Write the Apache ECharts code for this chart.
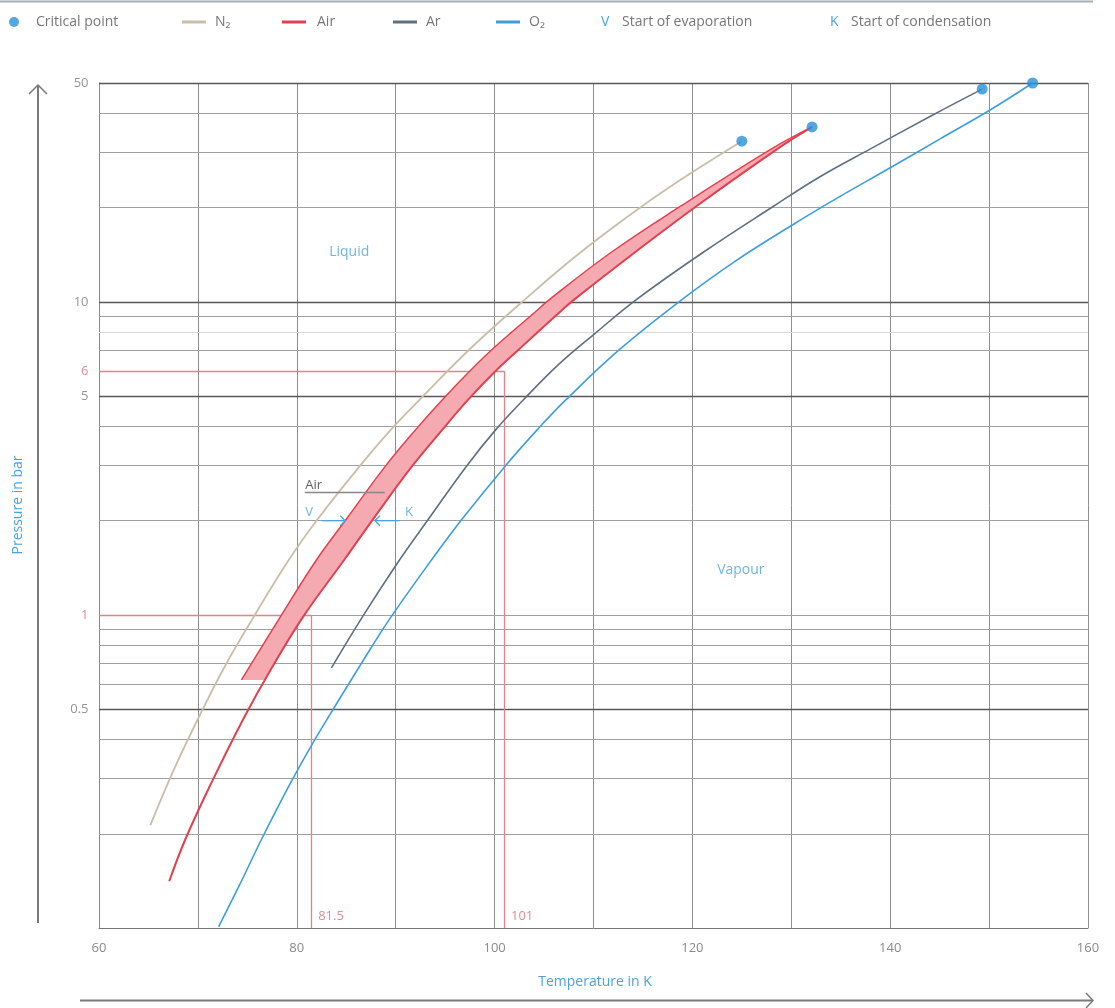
<!DOCTYPE html>
<html>
<head>
<meta charset="utf-8">
<script src="https://cdn.jsdelivr.net/npm/echarts@6/dist/echarts.min.js"></script>
<style>
html,body{margin:0;padding:0;background:#fff}
#chart{width:1115px;height:1008px}
</style>
</head>
<body>
<div id="chart"></div>
<script>
// vapour pressure curves, [temperature K, pressure bar]
const n2 = [[65.2,0.213],[67.5,0.317],[70.1,0.472],[72.8,0.692],[75.7,0.993],[79.2,1.50],[82.1,2.02],[86.3,2.97],[89.5,3.90],[92.4,4.86],[97.5,7.07],[103.1,10.2],[108.7,14.4],[114.9,20.2],[119.7,25.6],[125.0,32.6]]
const airV = [[74.4,0.620],[78.4,0.993],[82.0,1.50],[85.0,2.02],[88.9,2.97],[92.0,3.90],[94.7,4.86],[97.4,5.97],[99.8,7.07],[104.1,9.28],[105.6,10.2],[111.8,14.4],[118.8,20.2],[128.0,30.8],[132.1,36.2]]
const airK = [[67.1,0.141],[68.7,0.191],[71.3,0.288],[74.7,0.472],[77.4,0.672],[80.7,0.993],[84.8,1.50],[87.7,2.02],[91.6,2.97],[94.7,3.90],[97.3,4.86],[100.0,5.97],[102.5,7.07],[106.6,9.28],[108.1,10.2],[114.2,14.4],[120.4,20.2],[128.6,30.8],[132.1,36.2]]
const airBandBase = [[74.4,0.62],[76.8,0.62]]
const ar = [[83.5,0.677],[86.7,0.993],[90.4,1.50],[93.3,2.02],[97.1,2.97],[100.1,3.90],[102.9,4.86],[106.4,6.28],[110.2,7.95],[114.4,10.2],[121.1,14.4],[128.2,20.2],[132.9,25.1],[138.0,30.8],[144.3,39.5],[149.3,47.8]]
const o2 = [[72.1,0.101],[74.3,0.139],[76.4,0.191],[79.3,0.288],[81.4,0.379],[83.2,0.472],[87.5,0.784],[89.6,0.993],[93.5,1.48],[96.7,2.02],[101.0,2.97],[104.3,3.90],[107.2,4.86],[112.7,7.07],[119.0,10.2],[124.2,13.4],[130.1,17.6],[134.8,21.6],[140.0,26.8],[145.0,33.1],[150.1,41.0],[154.4,50]]
const criticalPoints = [[125.0,32.6],[132.1,36.2],[149.3,47.8],[154.4,50]]

// grid and tick values
const gridValues = [0.2,0.3,0.4,0.5,0.6,0.7,0.8,0.9,1,2,3,4,5,7,8,9,10,20,30,40,50]
const majorGrid = [0.5,5,10,50]
const faintGrid = [8]
const yTickVals = [50,10,6,5,1,0.5]
const yTickText = ['50','10','6','5','1','0.5']
const redTicks = [6,1]

// example readings: dew point of air at 1 bar and 6 bar
const refP = [1,6]
const refT = [81.5,101]

const regionNames = ['Liquid','Vapour']
const regionPos = [[85.3,14.4],[124.9,1.39]]

const FONT = '"Open Sans", "DejaVu Sans", sans-serif'
const BLUE = '#4aa3df'
const RED = '#e2404e'

const chart = echarts.init(document.getElementById('chart'))

const legendItem = (name, left, icon, pad) => ({
  left: left, top: 10, selectedMode: false, data: [name], icon: icon,
  itemWidth: icon === 'circle' ? 10 : 24, itemHeight: icon === 'circle' ? 10 : 3,
  textStyle: {color: '#777', fontSize: 14, fontFamily: FONT, padding: [0,0,0,pad]}
})

const refLines = []
refP.forEach((p, i) => {
  refLines.push([{coord: [60, p]}, {coord: [refT[i], p]}])
  refLines.push([{coord: [refT[i], p]}, {coord: [refT[i], 0.1]}])
})

const labelData = []
yTickVals.forEach((v, i) => labelData.push({
  value: [60, v],
  label: {formatter: yTickText[i], position: 'left', distance: 10, color: redTicks.includes(v) ? '#e06c7a' : '#7a7a7a', fontSize: 13}
}))
regionNames.forEach((n, i) => labelData.push({
  value: regionPos[i],
  label: {formatter: n, position: 'inside', color: BLUE, fontSize: 14}
}))
refT.forEach(t => labelData.push({
  value: [t, 0.1],
  label: {formatter: String(t), position: 'right', distance: 6, offset: [0, -12], color: '#e06c7a', fontSize: 13}
}))
labelData.push({value: [80.8, 2.6], label: {formatter: 'Air', position: 'right', distance: 0, color: '#333', fontSize: 13}})
labelData.push({value: [80.8, 2.12], label: {formatter: 'V', position: 'right', distance: 0, color: BLUE, fontSize: 13}})
labelData.push({value: [90.9, 2.12], label: {formatter: 'K', position: 'right', distance: 0, color: BLUE, fontSize: 13}})

const lineSeries = (name, data, color, width) => ({
  type: 'line', name: name, data: data, symbol: 'none', smooth: 0.4, z: 4,
  lineStyle: {color: color, width: width}, itemStyle: {color: color}
})

const option = {
  animation: false,
  backgroundColor: '#fff',
  textStyle: {fontFamily: FONT},
  grid: {left: 99, right: 27, top: 83, bottom: 80},
  legend: [
    legendItem('Critical point', 4, 'circle', 12),
    legendItem('N₂', 177, 'rect', 4),
    legendItem('Air', 277, 'rect', 6),
    legendItem('Ar', 388, 'rect', 4),
    legendItem('O₂', 491, 'rect', 4)
  ],
  xAxis: {
    type: 'value', min: 60, max: 160, interval: 10,
    axisLine: {onZero: false, lineStyle: {color: '#777'}},
    axisTick: {show: false},
    axisLabel: {formatter: v => v % 20 === 0 ? String(v) : '', color: '#8a8a8a', fontSize: 13, margin: 14},
    splitLine: {show: true, lineStyle: {color: '#8e8e8e', width: 1}}
  },
  yAxis: {
    type: 'log', logBase: 10, min: 0.1, max: 50,
    axisLine: {show: true, lineStyle: {color: '#888'}},
    axisTick: {show: false}, axisLabel: {show: false}, splitLine: {show: false}
  },
  graphic: [
    {type: 'line', shape: {x1: 0, y1: 1.5, x2: 1093, y2: 1.5}, style: {stroke: '#a3b0bc', lineWidth: 2}},
    {type: 'line', shape: {x1: 38, y1: 923, x2: 38, y2: 85}, style: {stroke: '#7a7a7a', lineWidth: 2}},
    {type: 'polyline', shape: {points: [[29,94],[38,85],[47,94]]}, style: {stroke: '#7a7a7a', lineWidth: 1.5, fill: null}},
    {type: 'line', shape: {x1: 80, y1: 1000.5, x2: 1093, y2: 1000.5}, style: {stroke: '#7a7a7a', lineWidth: 2}},
    {type: 'polyline', shape: {points: [[1086,993],[1093,1000.5],[1086,1008]]}, style: {stroke: '#7a7a7a', lineWidth: 1.5, fill: null}},
    {type: 'text', x: 18, y: 505, rotation: Math.PI / 2,
      style: {text: 'Pressure in bar', fill: BLUE, font: '14px ' + FONT, align: 'center', verticalAlign: 'middle'}},
    {type: 'text', x: 595, y: 982,
      style: {text: 'Temperature in K', fill: BLUE, font: '14px ' + FONT, align: 'center', verticalAlign: 'middle'}},
    {type: 'text', x: 601, y: 22, style: {text: 'V', fill: BLUE, font: '14px ' + FONT, verticalAlign: 'middle'}},
    {type: 'text', x: 622, y: 22, style: {text: 'Start of evaporation', fill: '#777', font: '14px ' + FONT, verticalAlign: 'middle'}},
    {type: 'text', x: 830, y: 22, style: {text: 'K', fill: BLUE, font: '14px ' + FONT, verticalAlign: 'middle'}},
    {type: 'text', x: 851, y: 22, style: {text: 'Start of condensation', fill: '#777', font: '14px ' + FONT, verticalAlign: 'middle'}}
  ],
  series: [
    {
      type: 'line', name: 'grid', data: [], silent: true,
      markLine: {
        silent: true, symbol: 'none', z: 1, label: {show: false}, animation: false,
        data: gridValues.map(v => ({
          yAxis: v,
          lineStyle: {
            type: 'solid',
            color: majorGrid.includes(v) ? '#585858' : faintGrid.includes(v) ? '#dadada' : '#a0a0a0',
            width: majorGrid.includes(v) ? 1.3 : 1
          }
        }))
      }
    },
    {
      type: 'line', name: 'ref', data: [], silent: true,
      markLine: {
        silent: true, symbol: 'none', z: 2, label: {show: false}, animation: false,
        lineStyle: {type: 'solid', color: '#e8808c', width: 1.3},
        data: refLines
      }
    },
    {
      type: 'custom', name: 'airBand', z: 3, silent: true,
      data: [airBandBase[0]],
      renderItem: (params, api) => {
        const upper = airV.filter(p => p[1] >= airBandBase[0][1])
        const lower = airK.filter(p => p[1] > airBandBase[1][1]).reverse()
        const pts = upper.concat(lower, [airBandBase[1]]).map(p => api.coord(p))
        return {type: 'polygon', shape: {points: pts, smooth: 0}, style: {fill: '#f5aab2'}}
      }
    },
    lineSeries('N₂', n2, '#c9bea9', 1.8),
    lineSeries('Air', airK, RED, 2),
    lineSeries('Air V', airV, RED, 1.5),
    lineSeries('Ar', ar, '#5e6f80', 1.6),
    lineSeries('O₂', o2, '#3c9fdc', 1.6),
    {
      type: 'scatter', name: 'Critical point', data: criticalPoints, z: 6, clip: false,
      symbolSize: 11, itemStyle: {color: '#2890d8'}
    },
    {
      type: 'scatter', name: 'labels', data: labelData, z: 7, clip: false, silent: true,
      symbolSize: 1, itemStyle: {color: 'rgba(0,0,0,0)'},
      label: {show: true, fontFamily: FONT}
    },
    {
      type: 'custom', name: 'annotations', z: 7, silent: true,
      // [from T, to T, pressure, arrow head?]
      data: [[80.8, 88.9, 2.46, 0], [82.5, 84.9, 2.0, 1], [90.4, 87.9, 2.0, 1]],
      encode: {x: [0, 1], y: 2},
      renderItem: (params, api) => {
        const a = api.coord([api.value(0), api.value(2)])
        const b = api.coord([api.value(1), api.value(2)])
        const head = api.value(3) === 1
        const color = head ? BLUE : '#888'
        const children = [{type: 'line', shape: {x1: a[0], y1: a[1], x2: b[0], y2: b[1]}, style: {stroke: color, lineWidth: 1.3}}]
        if (head) {
          const d = b[0] > a[0] ? -5 : 5
          children.push({type: 'polyline', shape: {points: [[b[0] + d, b[1] - 5], [b[0], b[1]], [b[0] + d, b[1] + 5]]},
            style: {stroke: color, lineWidth: 1.3, fill: null}})
        }
        return {type: 'group', children: children}
      }
    }
  ]
}

chart.setOption(option)
</script>
</body>
</html>
